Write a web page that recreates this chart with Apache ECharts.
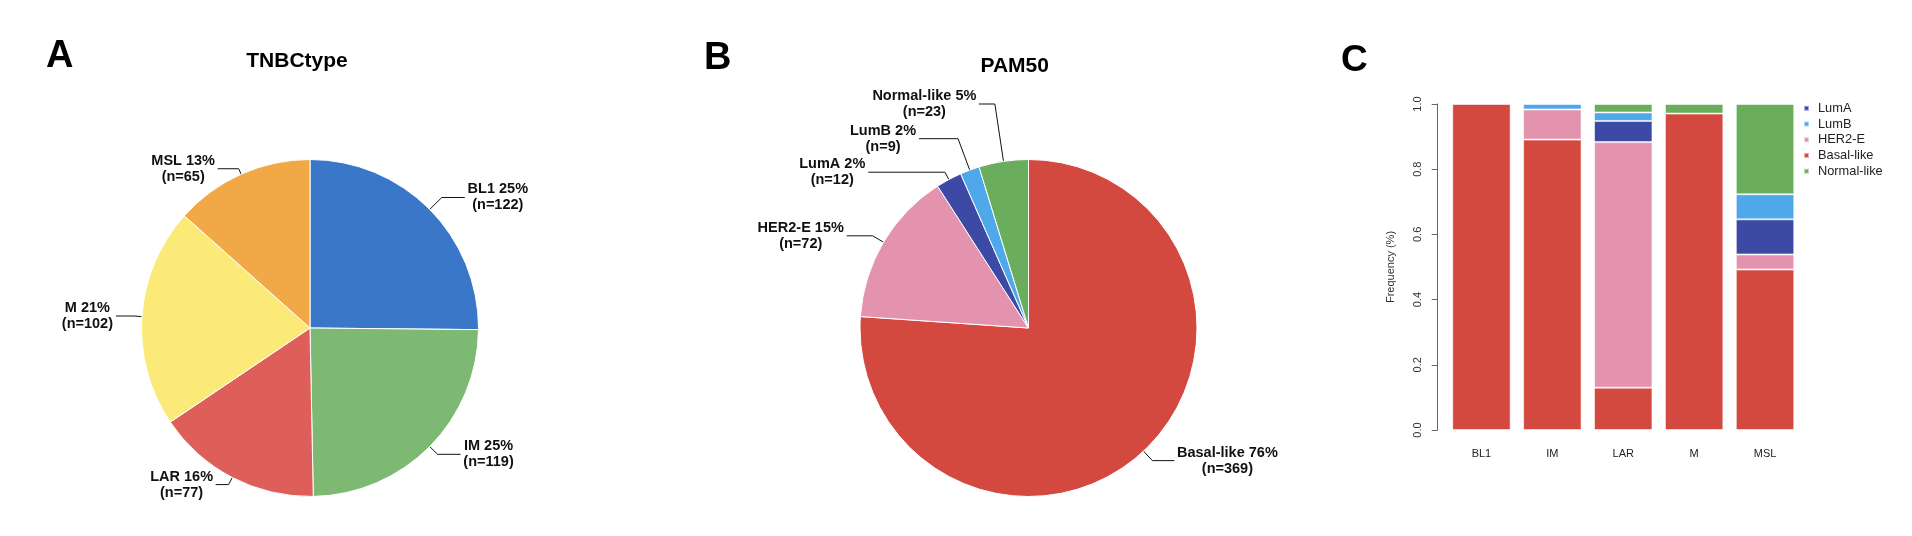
<!DOCTYPE html>
<html><head><meta charset="utf-8">
<script src="https://cdn.jsdelivr.net/npm/echarts@6/dist/echarts.min.js"></script>
<style>html,body{margin:0;padding:0;background:#fff}#c{width:1912px;height:536px}</style>
</head><body><div id="c"></div>
<script>
// ---- data ----
const tnbcTypes = ['BL1', 'IM', 'LAR', 'M', 'MSL'];
const tnbcCounts = [122, 119, 77, 102, 65];
const pam50Types = ['Basal-like', 'HER2-E', 'LumA', 'LumB', 'Normal-like'];
const pam50Counts = [369, 72, 12, 9, 23];
const barCategories = ['BL1', 'IM', 'LAR', 'M', 'MSL'];
const basalByType = [122, 106, 10, 99, 32];
const her2ByType = [0, 11, 58, 0, 3];
const lumAByType = [0, 0, 5, 0, 7];
const lumBByType = [0, 2, 2, 0, 5];
const normalByType = [0, 0, 2, 3, 18];
const legendOrder = ['LumA', 'LumB', 'HER2-E', 'Basal-like', 'Normal-like'];

// ---- styles ----
const FONT = '"Liberation Sans", Arial, Helvetica, sans-serif';
const tnbcColors = { BL1: '#3a77c9', IM: '#7db972', LAR: '#de5f59', M: '#fbea77', MSL: '#f1a947' };
const pamColors = { 'Basal-like': '#d34940', 'HER2-E': '#e393ad', 'LumA': '#3d4aa5', 'LumB': '#4ea8ea', 'Normal-like': '#6aad5c' };
// leader-line lengths per label (first radial segment, second horizontal segment)
const leaderStyle = {
  'BL1': [17, 23], 'IM': [11, 23], 'LAR': [8, 13], 'M': [8, 18], 'MSL': [6, 21],
  'Basal-like': [13, 22], 'HER2-E': [12.5, 26], 'LumA': [8.3, 76.7], 'LumB': [33.5, 39], 'Normal-like': [58, 16]
};
const LABEL_SIZE = 14.5;

const ctx = document.createElement('canvas').getContext('2d');
ctx.font = 'bold ' + LABEL_SIZE + 'px ' + FONT;
function textW(s) { return ctx.measureText(s).width; }

function pieData(names, counts, colors) {
  const total = counts.reduce((a, b) => a + b, 0);
  return names.map((n, i) => {
    const l1 = n + ' ' + Math.round(counts[i] / total * 100) + '%';
    const l2 = '(n=' + counts[i] + ')';
    const w = Math.ceil(Math.max(textW(l1), textW(l2)));
    const ls = leaderStyle[n];
    return {
      name: n, value: counts[i],
      itemStyle: { color: colors[n] },
      label: { rich: { t: { width: w, align: 'center' } } },
      labelLine: { length: ls[0], length2: ls[1] }
    };
  });
}

function pieSeries(names, counts, colors, center) {
  return {
    type: 'pie', center: center, radius: 168.5, startAngle: 90, clockwise: true,
    avoidLabelOverlap: false,
    itemStyle: { borderColor: '#fff', borderWidth: 1 },
    label: {
      show: true, position: 'outside', color: '#111', fontFamily: FONT,
      fontWeight: 'bold', fontSize: LABEL_SIZE, lineHeight: 16,
      distanceToLabelLine: 2.5,
      formatter: p => '{t|' + p.name + ' ' + Math.round(p.percent) + '%}\n{t|(n=' + p.value + ')}'
    },
    labelLine: { show: true, length: 12, length2: 21, lineStyle: { color: '#111', width: 1 } },
    emphasis: { disabled: true },
    data: pieData(names, counts, colors)
  };
}

const totals = barCategories.map((c, i) => basalByType[i] + her2ByType[i] + lumAByType[i] + lumBByType[i] + normalByType[i]);
function barSeries(name, arr) {
  return {
    type: 'bar', name: name, stack: 'pam', xAxisIndex: 0, yAxisIndex: 0,
    barCategoryGap: '17.6%',
    itemStyle: { color: pamColors[name], borderColor: 'rgba(255,255,255,0.55)', borderWidth: 1 },
    emphasis: { disabled: true },
    data: arr.map((v, i) => v === 0 ? null : v / totals[i])
  };
}

const titleBase = { padding: 0, textStyle: { fontFamily: FONT, fontWeight: 'bold', color: '#000' } };
const option = {
  animation: false,
  textStyle: { fontFamily: FONT },
  title: [
    Object.assign({}, titleBase, { text: 'A', left: 46, top: 38, textStyle: Object.assign({}, titleBase.textStyle, { fontSize: 38 }) }),
    Object.assign({}, titleBase, { text: 'B', left: 704, top: 39.5, textStyle: Object.assign({}, titleBase.textStyle, { fontSize: 38 }) }),
    Object.assign({}, titleBase, { text: 'C', left: 1341, top: 42, textStyle: Object.assign({}, titleBase.textStyle, { fontSize: 37 }) }),
    Object.assign({}, titleBase, { text: 'TNBCtype', left: 297, top: 50.5, textAlign: 'center', textStyle: Object.assign({}, titleBase.textStyle, { fontSize: 21 }) }),
    Object.assign({}, titleBase, { text: 'PAM50', left: 1014.7, top: 55.3, textAlign: 'center', textStyle: Object.assign({}, titleBase.textStyle, { fontSize: 21 }) })
  ],
  legend: {
    data: legendOrder, orient: 'vertical', left: 1798, top: 95.5,
    icon: 'rect', itemWidth: 5, itemHeight: 5, itemGap: 0, selectedMode: false,
    textStyle: { fontSize: 12.8, lineHeight: 15.7, color: '#222', fontFamily: FONT, padding: [0, 0, 0, 4] }
  },
  grid: { left: 1446, top: 104, width: 354.5, height: 326, containLabel: false },
  xAxis: {
    type: 'category', data: barCategories,
    axisLine: { show: false }, axisTick: { show: false },
    axisLabel: { fontSize: 11, color: '#222', margin: 18 }
  },
  yAxis: {
    type: 'value', min: 0, max: 1, interval: 0.2, offset: 8.3,
    name: 'Frequency (%)', nameLocation: 'middle', nameGap: 41,
    nameTextStyle: { fontSize: 11, color: '#333' },
    axisLine: { show: true, lineStyle: { color: '#666', width: 1 } },
    axisTick: { show: true, length: 6, lineStyle: { color: '#666' } },
    splitLine: { show: false },
    axisLabel: { rotate: 90, fontSize: 11, color: '#333', margin: 14, formatter: v => v.toFixed(1) }
  },
  series: [
    pieSeries(tnbcTypes, tnbcCounts, tnbcColors, [310, 328]),
    pieSeries(pam50Types, pam50Counts, pamColors, [1028.5, 328]),
    barSeries('Basal-like', basalByType),
    barSeries('HER2-E', her2ByType),
    barSeries('LumA', lumAByType),
    barSeries('LumB', lumBByType),
    barSeries('Normal-like', normalByType)
  ]
};
const chart = echarts.init(document.getElementById('c'));
chart.setOption(option);
</script>
</body></html>
